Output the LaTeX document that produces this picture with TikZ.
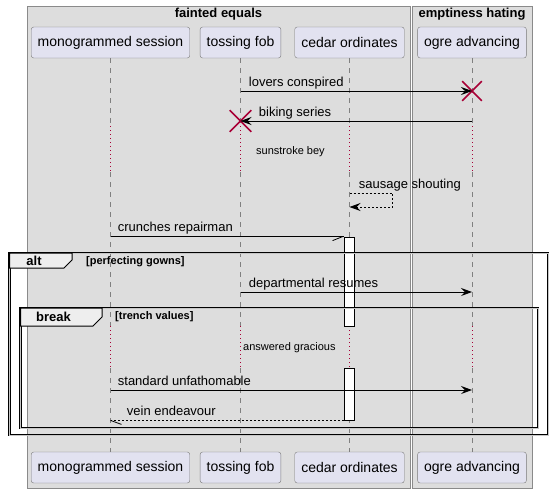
\documentclass[tikz,border=0pt]{standalone}
\usepackage{fontspec}
\setmainfont{Liberation Sans}
\usepackage{xcolor}
\usepackage{tikz}
\usetikzlibrary{arrows.meta,shapes.misc}

\definecolor{boxbg}{HTML}{DDDDDD}
\definecolor{boxline}{HTML}{8A8A8A}
\definecolor{partbg}{HTML}{E2E2F0}
\definecolor{partline}{HTML}{7A7A7A}
\definecolor{killred}{HTML}{A80036}
\definecolor{tabbg}{HTML}{EEEEEE}

\tikzset{
  part/.style={draw=partline, fill=partbg, rounded corners=2.5pt, minimum height=31pt,
    inner xsep=6.5pt, font=\fontsize{14}{16}\selectfont},
  life/.style={draw=gray, line width=0.7pt, dash pattern=on 5pt off 5pt},
  pause/.style={draw=killred, line width=0.7pt, dash pattern=on 1pt off 3pt},
  msg/.style={line width=0.8pt, -{Stealth[length=11pt,width=8pt,inset=4pt]}},
  ret/.style={msg, dash pattern=on 2pt off 2pt},
  half/.style={line width=0.8pt},
  lbl/.style={font=\fontsize{13}{15}\selectfont, inner sep=0pt, anchor=base west},
  note/.style={font=\fontsize{11}{13}\selectfont, inner sep=0pt, anchor=west},
  act/.style={draw, fill=white, line width=0.8pt, minimum width=10pt, inner sep=0pt},
  kill/.style={cross out, draw=killred, line width=1.6pt, inner sep=0pt},
  grp/.style={draw=black, line width=1pt, double=gray!45, double distance=0.8pt},
  tab/.style={draw=black, fill=tabbg, line width=1pt},
  tabtxt/.style={font=\bfseries\fontsize{13}{15}\selectfont, inner sep=0pt},
  cond/.style={font=\bfseries\fontsize{11}{13}\selectfont, inner sep=0pt, anchor=west},
}

\begin{document}
\begin{tikzpicture}[x=1pt, y=-1pt]
    \useasboundingbox (0,0) rectangle (553,493);

    % boxes
    \draw[boxline, fill=boxbg] (27,6) rectangle (410,488);
    \draw[boxline, fill=boxbg] (412,6) rectangle (532,488);
    \node (fe) [tabtxt] at (218.5,14.5) {fainted equals};
    \node (eh) [tabtxt] at (472,14.5) {emptiness hating};

    % participants
    \node (ms) [part] at (110.5,42.5) {monogrammed session};
    \node (tf) [part] at (240.5,42.5) {tossing fob};
    \node (co) [part] at (349.5,42.5) {cedar ordinates};
    \node (oa) [part] at (472,42.5) {ogre advancing};
    \node (bms) [part] at (110.5,467.5) {monogrammed session};
    \node (btf) [part] at (240.5,467.5) {tossing fob};
    \node (bco) [part] at (349.5,467.5) {cedar ordinates};
    \node (boa) [part] at (472,467.5) {ogre advancing};

    % lifelines with the two delays
    \foreach \p in {ms,tf,co,oa}{
        \draw[life] (\p.south) -- (\p |- 0,126);
        \draw[pause] (\p |- 0,126) -- (\p |- 0,172);
        \draw[life] (\p |- 0,172) -- (\p |- 0,326);
        \draw[pause] (\p |- 0,326) -- (\p |- 0,368);
        \draw[life] (\p |- 0,368) -- (b\p.north);
    }
    \node (d1) [note] at (256,151.5) {sunstroke bey};
    \node (d2) [note] at (243,348) {answered gracious};

    % activations
    \node (act1) [act, minimum height=89pt] at (349,281.5) {};
    \node (act2) [act, minimum height=52pt] at (349,394) {};

    % groups
    \draw[grp] (9.5,253) rectangle (548,435);
    \draw[tab] (9.5,253) -- (72,253) -- (72,260) -- (64,268) -- (9.5,268) -- cycle;
    \node (alt) [tabtxt] at (34,261) {alt};
    \node (altc) [cond] at (86,261.5) {[perfecting gowns]};
    \draw[grp] (20.5,308) rectangle (538,428);
    \draw[tab] (20.5,308) -- (102,308) -- (102,317) -- (93,326) -- (20.5,326) -- cycle;
    \node (brk) [tabtxt] at (53.5,317) {break};
    \node (brkc) [cond] at (115,317) {[trench values]};

    % messages
    \node (x1) [kill, minimum size=18pt] at (oa |- 0,91) {};
    \draw[msg] (tf |- x1) -- node[lbl, pos=0, xshift=8pt, yshift=5pt]{lovers conspired} (x1.center);
    \node (x2) [kill, minimum size=20pt] at (tf |- 0,121) {};
    \draw[msg] (oa |- x2) -- node[lbl, pos=1, xshift=18pt, yshift=5pt]{biking series} (x2.center);
    \draw[ret] (co |- 0,193) -- node[lbl, pos=0, xshift=9pt, yshift=4.5pt]{sausage shouting} ++(43,0) -- ++(0,14) -- (co |- 0,207);
    \draw[half] (ms |- act1.north) -- node[lbl, pos=0, xshift=7pt, yshift=5pt]{crunches repairman} (act1.north west);
    \draw[half] ([shift={(-11,4)}]act1.north west) -- ([xshift=-1pt]act1.north west);
    \draw[msg] (tf |- 0,292) -- node[lbl, pos=0, xshift=8pt, yshift=5pt]{departmental resumes} (oa |- 0,292);
    \draw[msg] (ms |- 0,390) -- node[lbl, pos=0, xshift=7pt, yshift=5pt]{standard unfathomable} (oa |- 0,390);
    \draw[half, dash pattern=on 2pt off 2pt] (act2.south west) -- node[lbl, pos=1, xshift=16pt, yshift=5pt]{vein endeavour} (ms |- act2.south);
    \draw[half] (ms |- act2.south) -- ++(11,4);
\end{tikzpicture}
\end{document}
